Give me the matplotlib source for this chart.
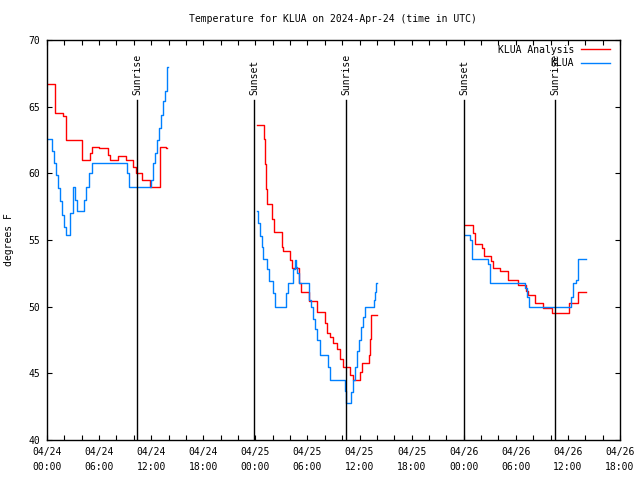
"""KLUA 기온 그래프 (분석값 vs 관측값) 를 gnuplot 스타일로 다시 그립니다."""

import matplotlib
matplotlib.use("Agg")
import matplotlib.pyplot as plt
import numpy as np
from matplotlib.ticker import FuncFormatter, MultipleLocator

# 시간은 2024-04-24 00:00 UTC 기준 경과 시간(h) 입니다.
# 구간 사이의 공백은 nan 으로 끊습니다.
analysis_hours = [
    0.0, 0.92, 1.84, 2.19, 4.03, 4.95, 5.18, 5.99, 7.03, 7.26, 8.18, 9.10, 9.91,
    10.25, 10.94, 11.86, 13.02, 13.71, 13.82, np.nan,
    24.19, 25.00, 25.11, 25.22, 25.33, 25.92, 26.15, 27.07, 27.18, 27.99, 28.22,
    29.03, 29.26, 30.18, 31.10, 32.02, 32.25, 32.60, 32.94, 33.40, 33.75, 34.09,
    34.90, 35.25, 36.05, 36.28, 37.09, 37.20, 37.32, 38.01, np.nan,
    48.15, 49.07, 49.30, 50.10, 50.33, 51.14, 51.37, 52.18, 53.10, 54.25, 55.17,
    55.40, 56.21, 57.13, 58.17, 60.12, 61.16, 62.08,
]
analysis_temp = [
    66.7, 64.5, 64.3, 62.5, 61.0, 61.5, 62.0, 61.9, 61.4, 61.0, 61.3, 61.0, 60.5,
    60.0, 59.5, 59.0, 62.0, 61.9, 61.9, np.nan,
    63.6, 62.6, 60.7, 58.8, 57.7, 56.6, 55.6, 54.5, 54.2, 53.5, 52.9,
    51.8, 51.1, 50.4, 49.6, 48.8, 48.0, 47.7, 47.3, 46.8, 46.1, 45.5,
    44.9, 44.5, 45.1, 45.8, 46.4, 47.6, 49.4, 49.4, np.nan,
    56.1, 55.5, 54.7, 54.4, 53.8, 53.4, 52.9, 52.7, 52.0, 51.6, 51.2,
    50.9, 50.3, 49.9, 49.55, 50.3, 51.1, 51.1,
]

obs_hours = [
    0.0, 0.58, 0.81, 1.04, 1.27, 1.50, 1.73, 1.96, 2.19, 2.65, 2.99, 3.23, 3.46,
    4.26, 4.49, 4.84, 5.18, 9.21, 9.44, 11.98, 12.21, 12.44, 12.67, 12.90, 13.13,
    13.36, 13.59, 13.82, 13.94, np.nan,
    24.19, 24.30, 24.53, 24.76, 24.88, 25.34, 25.57, 26.03, 26.26, 27.53, 27.76,
    28.33, 28.56, 28.68, 28.80, 29.03, 30.18, 30.41, 30.64, 30.87, 31.10, 31.45,
    32.37, 32.60, 34.32, 34.44, 35.01, 35.25, 35.48, 35.71, 35.94, 36.17, 36.40,
    36.63, 37.66, 37.78, 37.89, 38.01, np.nan,
    48.15, 48.72, 48.95, 50.79, 51.02, 55.06, 55.29, 55.52, 60.36, 60.59, 60.93,
    61.16, 62.08,
]
obs_temp = [
    62.6, 61.7, 60.8, 59.9, 58.9, 57.9, 56.9, 56.0, 55.4, 57.0, 59.0, 58.0, 57.2,
    58.0, 59.0, 60.0, 60.8, 60.0, 59.0, 59.5, 60.8, 61.5, 62.5, 63.4, 64.4,
    65.4, 66.2, 68.0, 68.0, np.nan,
    57.2, 56.3, 55.3, 54.5, 53.6, 52.8, 51.9, 51.0, 50.0, 51.0, 51.8,
    52.8, 53.5, 53.0, 52.5, 51.8, 50.5, 50.0, 49.1, 48.3, 47.5, 46.4,
    45.5, 44.5, 43.7, 42.8, 43.6, 44.5, 45.5, 46.7, 47.5, 48.5, 49.2,
    50.0, 50.5, 51.1, 51.8, 51.8, np.nan,
    55.4, 55.0, 53.6, 53.2, 51.8, 51.4, 50.7, 50.0, 50.7, 51.8, 52.0,
    53.6, 53.6,
]

sun_hours = [10.37, 23.85, 34.45, 48.04, 58.50]
sun_labels = ["Sunrise", "Sunset", "Sunrise", "Sunset", "Sunrise"]

day_labels = ["04/24", "04/25", "04/26", "04/27"]

FONT = "DejaVu Sans Mono"
FS = 7


def time_label(h, pos):
    h = int(round(h))
    if h % 6 != 0:
        return ""
    return f"{day_labels[h // 24]}\n{h % 24:02d}:00"


fig = plt.figure(figsize=(6.4, 4.8), dpi=100)
ax = fig.add_axes([47 / 640, 40 / 480, 573 / 640, 400 / 480])

ax.plot(analysis_hours, analysis_temp, color="#ff0000", lw=1.0,
        drawstyle="steps-post", label="KLUA Analysis")
ax.plot(obs_hours, obs_temp, color="#0080ff", lw=1.0,
        drawstyle="steps-post", label="KLUA")

# 일출/일몰 세로선과 라벨
for h, name in zip(sun_hours, sun_labels):
    ax.plot([h, h], [40, 65.5], color="black", lw=1.0)
    ax.text(h, 65.9, name, rotation=90, ha="center", va="bottom",
            family=FONT, fontsize=FS)

ax.set_xlim(0, 66)
ax.set_ylim(40, 70)

ax.xaxis.set_major_locator(MultipleLocator(2))
ax.xaxis.set_major_formatter(FuncFormatter(time_label))
ax.yaxis.set_major_locator(MultipleLocator(5))
ax.tick_params(direction="in", length=3.5, width=0.8, top=True, right=True,
               labelsize=FS, pad=5)
for lab in ax.get_xticklabels() + ax.get_yticklabels():
    lab.set_family(FONT)
    lab.set_linespacing(1.6)

for sp in ax.spines.values():
    sp.set_linewidth(1.0)

ax.set_ylabel("degrees F", family=FONT, fontsize=FS, labelpad=10)
fig.text(333 / 640, 1 - 19 / 480, "Temperature for KLUA on 2024-Apr-24 (time in UTC)",
         ha="center", va="center", family=FONT, fontsize=FS)

ax.legend(loc="upper right", bbox_to_anchor=(1 - 10 / 573, 0.988),
          frameon=False, markerfirst=False, handlelength=3.0, handletextpad=0.7,
          borderpad=0, borderaxespad=0, labelspacing=0.35,
          prop={"family": FONT, "size": FS})

fig.savefig("out.png", dpi=100)
